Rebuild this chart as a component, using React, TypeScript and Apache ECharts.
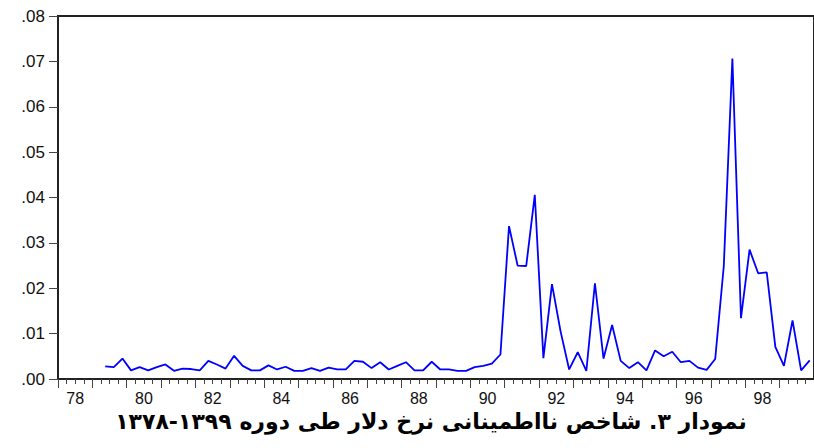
import React, { useEffect, useRef } from "react";
import * as echarts from "echarts";

// Years (Persian calendar, last two digits) shown on the horizontal axis
const years = ["78", "79", "80", "81", "82", "83", "84", "85", "86", "87", "88", "89", "90", "91", "92", "93", "94", "95", "96", "97", "98", "99"];
const quarterNames = ["Q1", "Q2", "Q3", "Q4"];
const quarters = years.flatMap((y) => quarterNames.map((q) => `13${y}${q}`));

// First observation of the series
const firstObservation = "1379Q2";

// Dollar exchange-rate uncertainty index, quarterly, 1379Q2 .. 1399Q4
const uncertainty = [
  0.0028, 0.0026, 0.0045, 0.0019, 0.0026, 0.0019, 0.0026, 0.0032, 0.0018, 0.0023,
  0.0022, 0.0019, 0.0040, 0.0032, 0.0023, 0.0051, 0.0029, 0.0019, 0.0019, 0.0030,
  0.0021, 0.0027, 0.0018, 0.0018, 0.0024, 0.0018, 0.0025, 0.0021, 0.0021, 0.0040,
  0.0038, 0.0024, 0.0037, 0.0021, 0.0029, 0.0037, 0.0019, 0.0019, 0.0038, 0.0021,
  0.0021, 0.0018, 0.0018, 0.0026, 0.0029, 0.0034, 0.0054, 0.0337, 0.0250, 0.0249,
  0.0406, 0.0046, 0.0209, 0.0105, 0.0021, 0.0059, 0.0018, 0.0211, 0.0045, 0.0119,
  0.0040, 0.0024, 0.0037, 0.0019, 0.0063, 0.0050, 0.0060, 0.0037, 0.0040, 0.0025,
  0.0020, 0.0044, 0.0249, 0.0706, 0.0134, 0.0285, 0.0233, 0.0235, 0.0071, 0.0029,
  0.0129, 0.0019, 0.0041,
];

const yMin = 0;
const yMax = 0.08;
const yStep = 0.01;

const caption = "نمودار ۳. شاخص نااطمینانی نرخ دلار طی دوره ۱۳۹۹-۱۳۷۸";

export default function App() {
  const ref = useRef<HTMLDivElement>(null);

  useEffect(() => {
    if (!ref.current) return;
    const chart = echarts.init(ref.current, null, { renderer: "svg" });
    const start = quarters.indexOf(firstObservation);
    const seriesData = uncertainty.map((v, i) => [quarters[start + i], v]);

    const axisFont = { fontFamily: "Liberation Sans, Arial, sans-serif", fontSize: 16, color: "#111" };

    chart.setOption({
      animation: false,
      backgroundColor: "#fff",
      grid: {
        left: 58,
        top: 16,
        bottom: 69,
        right: -4,
        show: true,
        borderColor: "#222",
        borderWidth: 2,
        backgroundColor: "transparent",
      },
      xAxis: [
        {
          type: "category",
          data: quarters,
          boundaryGap: true,
          position: "bottom",
          axisLine: { show: true, lineStyle: { color: "#222", width: 2 } },
          axisTick: { show: true, interval: 0, length: 5, lineStyle: { color: "#444", width: 1 } },
          axisLabel: { show: false },
          splitLine: { show: false },
        },
        {
          type: "category",
          data: years,
          boundaryGap: true,
          position: "bottom",
          axisLine: { show: false },
          axisTick: { show: true, interval: 0, length: 9, lineStyle: { color: "#444", width: 1 } },
          axisLabel: { interval: 1, margin: 11, ...axisFont },
          splitLine: { show: false },
        },
      ],
      yAxis: {
        type: "value",
        min: yMin,
        max: yMax,
        interval: yStep,
        axisLine: { show: true, lineStyle: { color: "#222", width: 2 } },
        axisTick: { show: true, length: 9, lineStyle: { color: "#444", width: 1 } },
        axisLabel: {
          margin: 13,
          ...axisFont,
          fontSize: 17,
          formatter: (v: number) => v.toFixed(2).replace(/^0/, ""),
        },
        splitLine: { show: false },
      },
      series: [
        {
          type: "line",
          xAxisIndex: 0,
          data: seriesData,
          showSymbol: false,
          symbol: "none",
          lineStyle: { color: "#0000ff", width: 1.8 },
          itemStyle: { color: "#0000ff" },
        },
      ],
      graphic: [
        {
          type: "text",
          x: 431,
          y: 421,
          style: {
            text: caption,
            textAlign: "center",
            textVerticalAlign: "middle",
            font: 'bold 22px "DejaVu Sans", sans-serif',
            fill: "#000",
          },
        },
      ],
    });

    return () => chart.dispose();
  }, []);

  return (
    <div
      ref={ref}
      style={{ position: "fixed", left: 0, top: 0, width: 814, height: 448, overflow: "hidden" }}
    />
  );
}
